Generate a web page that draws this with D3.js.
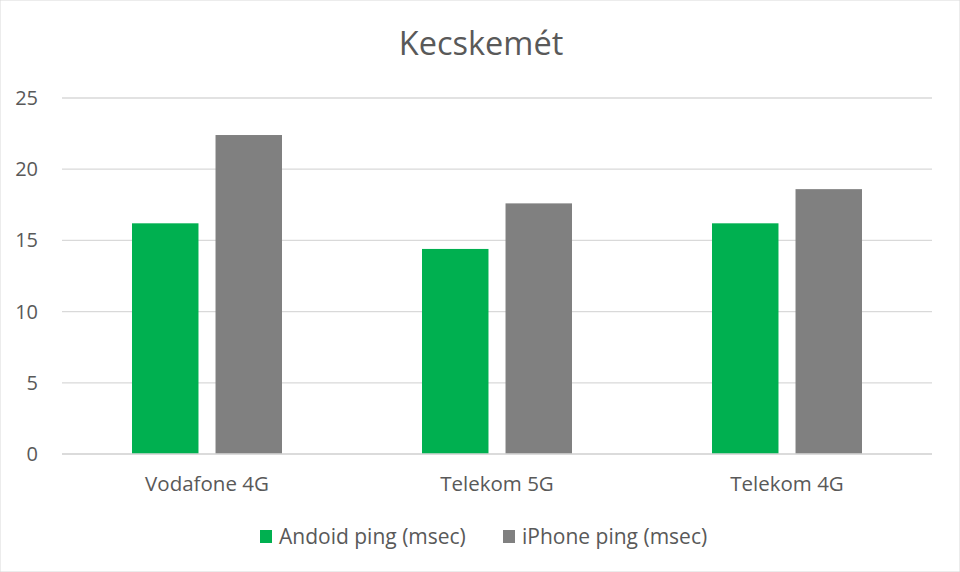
<!DOCTYPE html>
<html><head><meta charset="utf-8">
<script src="https://cdn.jsdelivr.net/npm/d3@7"></script>
<style>body{margin:0;background:#fff}svg{display:block}text{font-family:"Open Sans",sans-serif;fill:#595959}</style>
</head><body>
<svg id="c" width="960" height="572"></svg>
<script>
const categories = ["Vodafone 4G", "Telekom 5G", "Telekom 4G"];
const seriesNames = ["Andoid ping (msec)", "iPhone ping (msec)"];
const androidValues = [16.2, 14.4, 16.2];
const iphoneValues = [22.4, 17.6, 18.6];
const yTicks = [0, 5, 10, 15, 20, 25];
const colors = ["#00b050", "#808080"];

(function(){
const svg = d3.select("#c");
svg.append("rect").attr("width",960).attr("height",572).attr("fill","#fff").attr("stroke","#d9d9d9");
const pl = 62, pr = 932, pt = 98, pb = 454;
const y = d3.scaleLinear().domain([0, 25]).range([pb, pt]);
const x0 = d3.scaleBand().domain(categories).range([pl, pr]).padding(0);
const x1 = d3.scaleBand().domain(seriesNames).range([0, x0.bandwidth()]).paddingInner(0.204).paddingOuter(0.838);

svg.append("text").attr("x", 481).attr("y", 55).attr("text-anchor","middle")
  .style("font-size","32.5px").text("Kecskemét");

svg.append("g").selectAll("line").data(yTicks).join("line")
  .attr("x1", pl).attr("x2", pr).attr("y1", d=>y(d)).attr("y2", d=>y(d))
  .attr("stroke","#d9d9d9").attr("stroke-width",1.3);
svg.append("g").selectAll("text").data(yTicks).join("text")
  .attr("x", 38).attr("y", d=>y(d)).attr("dy","0.35em").attr("text-anchor","end")
  .style("font-size","20px").text(d=>d);

const data = categories.map((c,i)=>({cat:c, vals:[androidValues[i], iphoneValues[i]]}));
const groups = svg.append("g").selectAll("g").data(data).join("g")
  .attr("transform", d=>`translate(${x0(d.cat)},0)`);
groups.selectAll("rect").data(d=>d.vals.map((v,j)=>({s:seriesNames[j], v, j}))).join("rect")
  .attr("x", d=>x1(d.s)).attr("width", x1.bandwidth())
  .attr("y", d=>y(d.v)).attr("height", d=>pb - y(d.v))
  .attr("fill", d=>colors[d.j]);

svg.append("line").attr("x1",pl).attr("x2",pr).attr("y1",pb).attr("y2",pb)
  .attr("stroke","#d9d9d9").attr("stroke-width",1.3);

svg.append("g").selectAll("text").data(categories).join("text")
  .attr("x", d=>x0(d)+x0.bandwidth()/2).attr("y", 491).attr("text-anchor","middle")
  .style("font-size","20.5px").text(d=>d);

const legX = [260, 503];
const leg = svg.append("g").selectAll("g").data(seriesNames).join("g")
  .attr("transform",(d,i)=>`translate(${legX[i]},530)`);
leg.append("rect").attr("width",12).attr("height",13).attr("fill",(d,i)=>colors[i]);
leg.append("text").attr("x",19).attr("y",7).attr("dy","0.35em").style("font-size","21px").text(d=>d);
})();
</script>
</body></html>
